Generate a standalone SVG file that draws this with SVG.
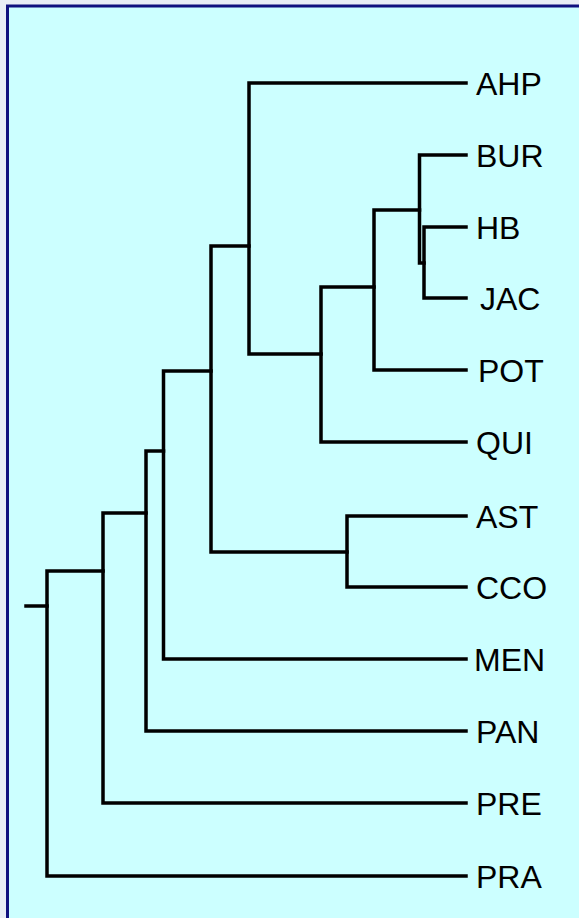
<svg xmlns="http://www.w3.org/2000/svg" width="579" height="918" viewBox="0 0 579 918">
<style>
.bg{fill:#e9edf5}
.panel{fill:#ccffff;stroke:#10107e;stroke-width:3}
.edge{fill:none;stroke:#000;stroke-width:3.5;stroke-linecap:square;stroke-linejoin:miter}
.lbl{font-family:"Liberation Sans",Arial,sans-serif;font-size:32px;fill:#000}
</style>
<rect class="bg" x="0" y="0" width="579" height="918"/>
<rect class="panel" x="7.5" y="6" width="600" height="950"/>
<g id="connectors">
<path class="edge" d="M466 227 H424 V298 H466"/>
<path class="edge" d="M466 155 H419.5 V263 H424"/>
<path class="edge" d="M419.5 210 H374 V370 H466"/>
<path class="edge" d="M374 287 H321 V442 H466"/>
<path class="edge" d="M466 83 H249 V354 H321"/>
<path class="edge" d="M466 516 H347 V587 H466"/>
<path class="edge" d="M249 246 H211 V552 H347"/>
<path class="edge" d="M211 371 H163.5 V659 H466"/>
<path class="edge" d="M163.5 451 H146 V731 H466"/>
<path class="edge" d="M146 513 H103 V803 H466"/>
<path class="edge" d="M103 571 H47 V876 H466"/>
<path class="edge" d="M26 606 H47"/>
</g>
<g id="AHP"><text class="lbl" x="476" y="95">AHP</text></g>
<g id="BUR"><text class="lbl" x="476" y="167">BUR</text></g>
<g id="HB"><text class="lbl" x="476" y="239">HB</text></g>
<g id="JAC"><text class="lbl" x="480" y="310">JAC</text></g>
<g id="POT"><text class="lbl" x="478" y="382">POT</text></g>
<g id="QUI"><text class="lbl" x="476" y="454">QUI</text></g>
<g id="AST"><text class="lbl" x="476" y="528">AST</text></g>
<g id="CCO"><text class="lbl" x="476" y="599">CCO</text></g>
<g id="MEN"><text class="lbl" x="474" y="671">MEN</text></g>
<g id="PAN"><text class="lbl" x="476" y="743">PAN</text></g>
<g id="PRE"><text class="lbl" x="476" y="815">PRE</text></g>
<g id="PRA"><text class="lbl" x="476" y="888">PRA</text></g>
</svg>
